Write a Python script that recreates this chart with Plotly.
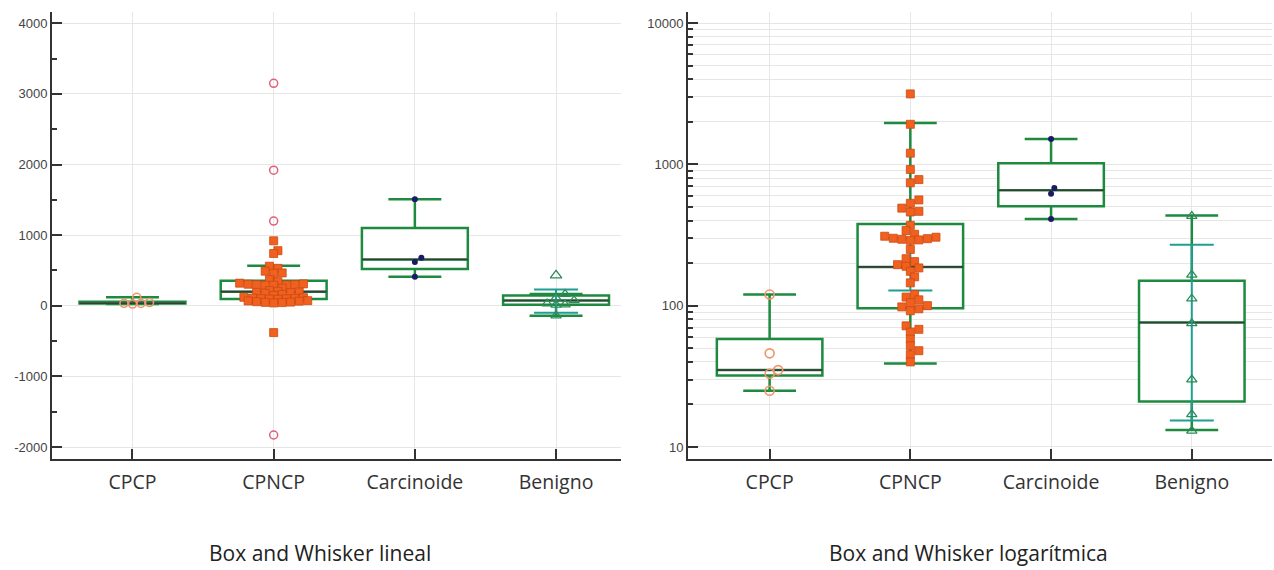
import numpy as np
import plotly.graph_objects as go

# ---------------- data ----------------
categories = ["CPCP", "CPNCP", "Carcinoide", "Benigno"]

cpcp_values = [25, 33, 35, 46, 120]
cpncp_values = [3150, 1920, 1200, 920, 780, 740, 560, 530, 490, 465, 460, 370, 340,
                320, 310, 305, 300, 298, 295, 292, 290, 250, 215, 205, 195, 190, 185,
                175, 160, 145, 120, 115, 110, 105, 100, 98, 95, 92, 72, 68, 65, 58,
                52, 48, 45, 40, -380, -1830]
cpncp_far_out_lineal = [3150, 1920, 1200, -1830]
carcinoide_values = [410, 620, 680, 1510]
benigno_values = [-140, 13, 17, 30, 75, 112, 165, 430]
benigno_out_lineal = [430]

# box statistics, linear panel
lin_q1 = [32, 95, 520, 15]
lin_median = [35, 200, 655, 75]
lin_q3 = [58, 355, 1100, 145]
lin_lower = [25, 40, 410, -140]
lin_upper = [120, 567, 1510, 165]
lin_alt_lower = [None, None, None, -100]
lin_alt_upper = [None, None, None, 230]

# box statistics, log panel
log_q1 = [32, 96, 505, 21]
log_median = [35, 188, 655, 76]
log_q3 = [58, 378, 1020, 150]
log_lower = [25, 39, 411, 13.2]
log_upper = [120, 1960, 1513, 434]
log_alt_lower = [None, 128, None, 15.4]
log_alt_upper = [None, 300, None, 270]

lin_yticks = [-2000, -1000, 0, 1000, 2000, 3000, 4000]
log_yticks = [10, 100, 1000, 10000]
panel_titles = ["Box and Whisker lineal", "Box and Whisker logarítmica"]

# ---------------- styling ----------------
GREEN = "#1d8a3f"
MED = "#3a3a3a"
TEAL = "#1f9e94"
SQ_FILL = "#f2601f"
SQ_EDGE = "#c94a12"
CPCP_C = "#f0946a"
OUT_C = "#e0607a"
NAVY = "#1a1a66"
TRI = "#2e8b57"
GRID = "#e6e6e6"
AX = "#333333"

W, H = 1274, 570
pos = np.arange(len(categories), dtype=float)


def swarm(vals, px_per_unit, px_per_cat, log=False, d=8.5, tight=0.95):
    v = np.asarray(vals, float)
    py = (np.log10(v) if log else v) * px_per_unit
    order = np.argsort(py)
    placed = []
    off = np.zeros(len(v))
    cands = [0.0] + [s * k * d / 2 for k in range(1, 30) for s in (1, -1)]
    for i in order:
        chosen = 0.0
        for c in cands:
            if all((c - qx) ** 2 + (py[i] - qy) ** 2 >= (tight * d) ** 2 for qx, qy in placed):
                chosen = c
                break
        placed.append((chosen, py[i]))
        off[i] = chosen / px_per_cat
    return off


fig = go.Figure()


def add_panel(xa, ya, q1, med, q3, lo, up, alt_lo, alt_up, log):
    fig.add_trace(go.Box(
        x=pos, q1=q1, median=med, q3=q3, lowerfence=lo, upperfence=up,
        width=0.75, whiskerwidth=0.5, boxpoints=False,
        line=dict(color=GREEN, width=2.5), fillcolor="white",
        xaxis=xa, yaxis=ya, showlegend=False, hoverinfo="skip"))
    fig.add_trace(go.Box(
        x=pos, q1=med, median=med, q3=med, lowerfence=med, upperfence=med,
        width=0.75, whiskerwidth=0.0, boxpoints=False,
        line=dict(color=MED, width=1.6), fillcolor="rgba(0,0,0,0)",
        xaxis=xa, yaxis=ya, showlegend=False, hoverinfo="skip"))
    idx = [i for i in range(len(categories)) if alt_lo[i] is not None]
    if idx:
        lows = np.array([alt_lo[i] for i in idx], float)
        ups = np.array([alt_up[i] for i in idx], float)
        cen = np.sqrt(lows * ups) if log else (lows + ups) / 2
        fig.add_trace(go.Scatter(
            x=pos[idx], y=cen, mode="markers",
            marker=dict(size=1, color="rgba(0,0,0,0)"),
            error_y=dict(type="data", symmetric=False, array=ups - cen,
                         arrayminus=cen - lows, color=TEAL, thickness=2, width=22),
            xaxis=xa, yaxis=ya, showlegend=False, hoverinfo="skip"))


add_panel("x", "y", lin_q1, lin_median, lin_q3, lin_lower, lin_upper,
          lin_alt_lower, lin_alt_upper, False)
add_panel("x2", "y2", log_q1, log_median, log_q3, log_lower, log_upper,
          log_alt_lower, log_alt_upper, True)

LIN_PX, LIN_CAT = 0.0705, 141.0
LOG_PX, LOG_CAT = 141.3, 140.0


def pts(xa, ya, base, vals, off, symbol, size, color, line_color, lw):
    fig.add_trace(go.Scatter(
        x=base + off, y=vals, mode="markers",
        marker=dict(symbol=symbol, size=size, color=color,
                    line=dict(color=line_color, width=lw)),
        xaxis=xa, yaxis=ya, showlegend=False))


# ----- linear panel points -----
pts("x", "y", pos[0], cpcp_values, swarm(cpcp_values, LIN_PX, LIN_CAT, tight=0.8),
    "circle-open", 8, CPCP_C, CPCP_C, 1.6)
sq_lin = [v for v in cpncp_values if v not in cpncp_far_out_lineal]
pts("x", "y", pos[1], sq_lin, swarm(sq_lin, LIN_PX, LIN_CAT, tight=0.6),
    "square", 8, SQ_FILL, SQ_EDGE, 0.8)
pts("x", "y", pos[1], cpncp_far_out_lineal, np.zeros(len(cpncp_far_out_lineal)),
    "circle-open", 8, OUT_C, OUT_C, 1.5)
pts("x", "y", pos[2], carcinoide_values, swarm(carcinoide_values, LIN_PX, LIN_CAT, d=6.5),
    "circle", 6, NAVY, NAVY, 0)
ben_lin = [v for v in benigno_values if v not in benigno_out_lineal]
pts("x", "y", pos[3], ben_lin, swarm(ben_lin, LIN_PX, LIN_CAT, d=9, tight=0.7),
    "triangle-up-open", 9, TRI, TRI, 1.3)
pts("x", "y", pos[3], benigno_out_lineal, np.zeros(len(benigno_out_lineal)),
    "triangle-up-open", 10, TRI, TRI, 1.3)

# ----- log panel points -----
pts("x2", "y2", pos[0], cpcp_values, swarm(cpcp_values, LOG_PX, LOG_CAT, log=True),
    "circle-open", 9, CPCP_C, CPCP_C, 1.6)
sq_log = [v for v in cpncp_values if v > 0]
pts("x2", "y2", pos[1], sq_log, swarm(sq_log, LOG_PX, LOG_CAT, log=True, tight=0.75),
    "square", 8, SQ_FILL, SQ_EDGE, 0.8)
pts("x2", "y2", pos[2], carcinoide_values,
    swarm(carcinoide_values, LOG_PX, LOG_CAT, log=True, d=6.5),
    "circle", 6, NAVY, NAVY, 0)
ben_log = [v for v in benigno_values if v > 0]
pts("x2", "y2", pos[3], ben_log, np.zeros(len(ben_log)),
    "triangle-up-open", 9, TRI, TRI, 1.3)

# ---------------- axes ----------------
ydom = [1 - 459 / H, 1 - 12 / H]
xcommon = dict(
    tickmode="array", tickvals=list(pos), ticktext=categories,
    showgrid=True, gridcolor=GRID, gridwidth=1, zeroline=False,
    showline=True, linecolor=AX, linewidth=2,
    ticks="inside", ticklen=10, tickwidth=1.5, tickcolor=AX,
    tickfont=dict(family="Open Sans", size=19.5, color="#333333"),
    ticklabelstandoff=5, automargin=False, fixedrange=True)
ycommon = dict(
    showgrid=True, gridcolor=GRID, gridwidth=1, zeroline=False,
    showline=True, linecolor=AX, linewidth=2,
    ticks="inside", ticklen=10, tickwidth=1.5, tickcolor=AX,
    tickfont=dict(family="Liberation Sans", size=13, color="#444444"),
    automargin=False, fixedrange=True)

minor_log = [k * 10 ** e for e in range(1, 4) for k in range(2, 10)]

fig.update_layout(
    width=W, height=H,
    margin=dict(l=0, r=0, t=0, b=0),
    paper_bgcolor="white", plot_bgcolor="white",
    showlegend=False,
    xaxis=dict(domain=[52 / W, 621 / W], range=[-0.57, 3.46], anchor="y", **xcommon),
    yaxis=dict(domain=ydom, range=[-2170, 4160], anchor="x",
               tickmode="array", tickvals=lin_yticks,
               ticktext=[str(v) for v in lin_yticks],
               minor=dict(dtick=500, ticks="inside", ticklen=5, tickcolor=AX,
                          showgrid=False), **ycommon),
    xaxis2=dict(domain=[688 / W, 1272 / W], range=[-0.58, 3.57], anchor="y2", **xcommon),
    yaxis2=dict(domain=ydom, type="log", range=[0.915, 4.078], anchor="x2",
                tickmode="array", tickvals=log_yticks,
                ticktext=[str(v) for v in log_yticks],
                minor=dict(tickmode="array", tickvals=minor_log, ticks="inside",
                           ticklen=5, tickcolor=AX, showgrid=True, gridcolor=GRID),
                **ycommon),
)

for title, xc in zip(panel_titles, [320 / W, 968 / W]):
    fig.add_annotation(text=title, xref="paper", yref="paper", x=xc, y=17 / H,
                       xanchor="center", yanchor="middle", showarrow=False,
                       font=dict(family="Open Sans", size=21, color="#222222"))

fig.write_html(
    "out.html",
    config={"displayModeBar": False},
    post_script="document.body.style.margin='0';document.body.style.overflow='hidden';")
